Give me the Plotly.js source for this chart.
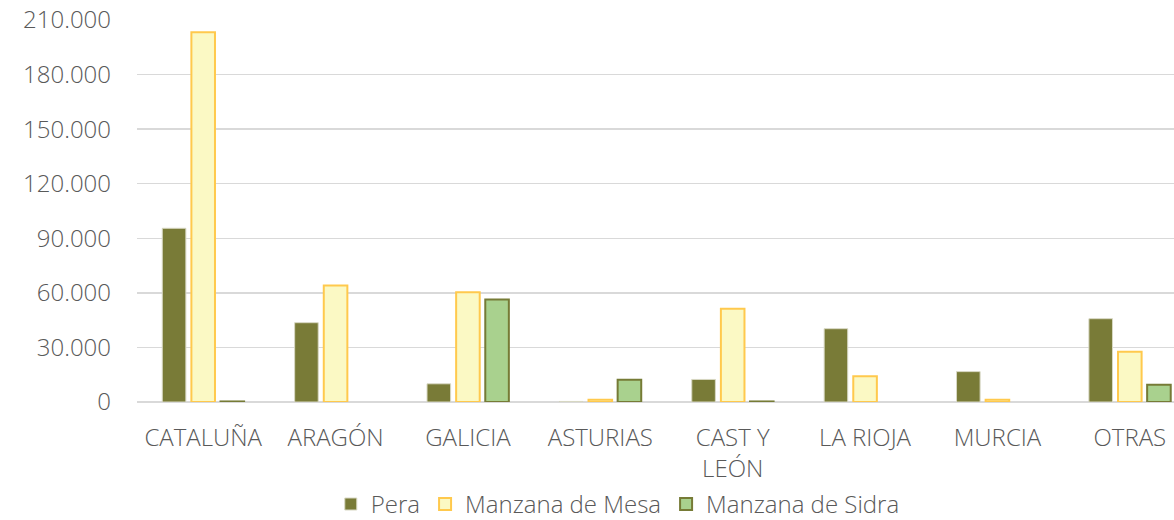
<!DOCTYPE html>
<html>
<head>
<meta charset="utf-8">
<script src="https://cdn.plot.ly/plotly-3.0.1.min.js"></script>
<style>html,body{margin:0;padding:0;background:#fff;width:1174px;height:520px;overflow:hidden}#chart{width:1196px;height:520px}</style>
</head>
<body>
<div id="chart"></div>
<script>
const categories = ["CATALUÑA", "ARAGÓN", "GALICIA", "ASTURIAS", "CAST Y<br>LEÓN", "LA RIOJA", "MURCIA", "OTRAS"];
const pera = [95500, 43600, 10000, 300, 12400, 40300, 16700, 45800];
const manzanaMesa = [203200, 64100, 60400, 1300, 51300, 14100, 1200, 27600];
const manzanaSidra = [300, null, 56400, 12200, 300, null, null, 9500];
const yTicks = [0, 30000, 60000, 90000, 120000, 150000, 180000, 210000];
const yTickText = ["0", "30.000", "60.000", "90.000", "120.000", "150.000", "180.000", "210.000"];

const font = {family: "Open Sans, sans-serif", size: 24, color: "#595959", weight: 300};

const traces = [
  {type: "bar", name: "Pera", x: categories, y: pera,
   marker: {color: "#797b37", line: {color: "#d8d8c4", width: 1}}},
  {type: "bar", name: "Manzana de Mesa", x: categories, y: manzanaMesa,
   marker: {color: "#fbf9c4", line: {color: "#ffc94d", width: 2}}},
  {type: "bar", name: "Manzana de Sidra", x: categories, y: manzanaSidra,
   marker: {color: "#a9d18e", line: {color: "#767b36", width: 2}}}
];

const layout = {
  width: 1196, height: 520,
  margin: {l: 137, r: 0, t: 20, b: 118, autoexpand: false},
  paper_bgcolor: "#fff", plot_bgcolor: "#fff",
  font: font,
  barmode: "group",
  bargap: 0.34,
  bargroupgap: 0.19,
  showlegend: true,
  hovermode: false,
  xaxis: {
    type: "category",
    tickfont: font,
    showgrid: false,
    showline: false,
    ticks: "",
    ticklabelstandoff: 19,
    automargin: false
  },
  yaxis: {
    range: [0, 210000],
    tickvals: yTicks,
    ticktext: yTickText,
    tickfont: font,
    showgrid: true,
    gridcolor: "#d9d9d9",
    gridwidth: 1.5,
    zeroline: true,
    zerolinecolor: "#d9d9d9",
    zerolinewidth: 2,
    showline: false,
    ticks: "",
    ticklabelstandoff: 25,
    automargin: false
  },
  legend: {
    orientation: "h",
    x: 0.454, xanchor: "center", xref: "paper",
    y: 0.03, yanchor: "middle", yref: "container",
    font: font,
    itemwidth: 30,
    traceorder: "normal"
  }
};

Plotly.newPlot("chart", traces, layout, {displayModeBar: false, staticPlot: true});
</script>
</body>
</html>
